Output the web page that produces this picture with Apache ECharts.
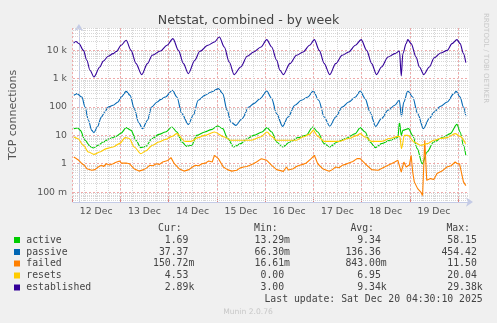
<!DOCTYPE html>
<html><head><meta charset="utf-8">
<script src="https://cdn.jsdelivr.net/npm/echarts@6/dist/echarts.min.js"></script>
<style>html,body{margin:0;padding:0;background:#f0f0f0;}#c{width:497px;height:323px;}</style>
</head><body><div id="c"></div><script>
// hours since 12 Dec 00:00
const days = ['12 Dec','13 Dec','14 Dec','15 Dec','16 Dec','17 Dec','18 Dec','19 Dec'];
const yTickLabels = {'-1':'100 m','0':'1','1':'10','2':'100','3':'1 k','4':'10 k'};
const minorMultipliers = [2,3,4,5,6,7,8,9];
const decades = [0.01,0.1,1,10,100,1000,10000];

const active = [[-2.6,17.2],[-0.6,18.1],[0.7,15],[3.1,6.7],[5.6,4.1],[7.3,3.6],[9.8,4.45],[12.3,5.8],[15.6,7.7],[18.9,9.2],[21.4,12],[23.9,18.7],[26.4,15],[28.9,6.7],[31.3,3.7],[33.8,4.1],[37.1,7.7],[40.5,10.8],[43.8,13.1],[47.1,19.6],[49.6,13.1],[52.1,5.8],[54.6,4.1],[57.1,4.45],[59.6,10],[63.7,13.1],[67.0,15.9],[70.2,21.2],[72.8,17.2],[75.3,7.7],[78.4,3.9],[81.9,5.1],[85.2,7.7],[88.5,10],[92.7,13.1],[95.2,18.7],[97.6,13.1],[100.1,5.8],[103.1,3.9],[106.8,5.8],[110.9,8.3],[115.0,10],[118.4,19.6],[120.9,13.1],[124.2,5.1],[127.0,3.9],[130.8,5.8],[134.9,7.7],[140.0,11.5],[142.4,18.7],[144.9,13.1],[147.4,5.8],[150.2,3.7],[153.2,5.1],[157.4,6.7],[161.5,8.3],[162.3,29.4],[163.2,10],[164.0,15],[166.9,17.2],[168.9,10],[171.3,3.4],[173.8,1.0],[176.3,2.6],[179.6,5.8],[184.6,8.7],[188.0,11.5],[191.4,24.4],[193.0,13.1],[194.7,4.45],[195.9,1.98]];

const passive = [[-2.6,256],[-1,294],[1.5,223],[3.1,99],[4.8,34],[6.5,15],[7.6,12.4],[9.3,19.6],[11.4,44],[13.1,66],[14.8,99],[17.3,114],[19.8,149],[21.4,223],[23.9,354],[25.9,256],[28.0,87],[30.2,29],[32.2,17.2],[34.7,34],[36.8,99],[39.6,149],[41.3,181],[43.8,223],[47.4,384],[49.6,223],[52.1,58],[55.4,24],[57.9,51],[60.4,171],[63.7,256],[67.0,335],[70.6,441],[72.8,294],[75.0,76],[77.0,29],[79.4,22.5],[82.7,39],[86.0,99],[88.5,131],[91.8,196],[95.1,363],[97.6,196],[100.1,58],[103.1,20.7],[105.9,44],[109.3,114],[112.6,171],[115.9,223],[118.7,363],[121.4,171],[124.2,44],[127.0,21],[130.0,44],[133.3,99],[136.6,149],[140.0,223],[142.4,363],[144.9,196],[147.4,66],[150.2,20.7],[153.2,39],[156.5,76],[159.9,114],[162.2,171],[163.3,47],[164.5,149],[166.5,363],[169.0,223],[171.5,58],[174.4,17.2],[177.4,39],[179.9,66],[183.1,105],[186.5,149],[189.8,294],[191.0,354],[193.0,223],[194.7,99],[195.9,47]];

const failed = [[-2.6,1.72],[-1.2,1.5],[-0.1,1.32],[1.5,1.0],[2.6,0.9],[4.0,0.67],[6.5,0.59],[8.1,0.62],[8.8,0.7],[9.8,0.77],[11.4,0.88],[12.5,0.8],[13.9,1.0],[15.5,0.9],[17.3,1.0],[18.5,1.1],[19.4,0.95],[20.6,1.24],[21.5,1.05],[22.4,1.15],[23.9,1.06],[25.5,1.0],[26.5,1.1],[27.9,0.67],[30.4,0.55],[32.8,0.62],[34.2,0.7],[35.8,0.88],[37.5,0.85],[39.1,1.0],[40.8,0.95],[42.4,1.15],[45.0,1.3],[46.6,1.64],[48.3,1.0],[50.7,0.67],[53.2,0.55],[55.7,0.62],[57.3,0.75],[59.0,0.88],[60.6,0.85],[62.3,1.0],[64.0,1.05],[65.7,1.24],[67.5,1.15],[68.6,1.98],[70.6,1.51],[73.1,0.77],[75.2,0.62],[77.4,0.55],[79.9,0.59],[81.5,0.7],[83.3,0.77],[85.0,0.8],[86.6,0.88],[88.3,1.0],[89.9,1.15],[92.4,1.51],[95.1,1.32],[97.6,0.88],[100.1,0.62],[103.5,0.54],[105.1,0.77],[106.0,0.6],[108.5,0.67],[110.1,0.8],[111.8,0.88],[113.4,0.95],[115.1,1.06],[117.6,1.51],[119.2,1.98],[120.9,1.0],[123.4,0.67],[126.7,0.54],[128.3,0.62],[130.0,0.77],[131.7,0.72],[133.3,0.88],[135.0,0.95],[136.6,1.06],[138.7,1.2],[140.8,1.51],[142.4,1.51],[144.9,1.0],[148.2,0.62],[151.5,0.59],[154.0,0.72],[156.5,0.88],[158.2,1.0],[159.9,1.15],[161.5,1.32],[163.2,0.51],[164.5,1.15],[165.7,0.77],[167.3,0.9],[168.2,1.98],[169.0,0.51],[169.8,0.23],[171.5,0.133],[173.1,0.10],[174.0,0.077],[175.1,6.7],[176.1,0.26],[178.0,0.30],[179.7,0.28],[181.3,0.45],[183.8,0.55],[186.3,0.77],[188.4,0.85],[190.5,1.15],[191.6,1.0],[192.7,1.0],[194.7,0.23],[195.9,0.17]];

const resets = [[-2.6,8.7],[-0.6,7.7],[2.3,4.45],[4.8,2.6],[7.6,2.14],[10.6,2.6],[13.9,3.4],[17.3,3.9],[20.5,5.1],[23.5,8.3],[25.5,7.7],[28,3.9],[31.3,2.27],[33.8,2.8],[37.2,4.45],[40.4,5.8],[43.8,7.1],[47.1,9.2],[49.6,11.5],[53.7,6.15],[56.7,6.15],[60.3,8.3],[63.7,10],[68.6,13.1],[73.6,8.7],[77,6.7],[86.9,6.7],[91.9,8.7],[95.2,13.1],[97.6,9.2],[100.1,6.7],[110.1,6.7],[113.4,8.7],[116.7,10.8],[118.7,15],[120.9,9.2],[124.2,6.15],[131.7,6.15],[136.6,7.7],[140.8,10],[142.4,11.5],[144.9,8.7],[148.2,6.15],[153.2,6.15],[157.3,7.7],[161.5,9.2],[162.5,9],[163.3,3.4],[164.8,10],[166.5,10],[169.8,5.8],[173.1,4.45],[176.4,5.1],[179.7,6.7],[183.0,7.7],[186.4,8.3],[190.5,11.5],[193.0,9.2],[195.8,5.1]];

const established = [[-2.7,17500],[-1.5,20000],[0,17000],[2.3,9800],[4,4400],[5.6,1950],[7.6,1130],[10.6,2540],[12.3,4100],[14.8,6050],[17.3,7500],[18.9,8900],[21.4,14800],[23.9,22100],[26.4,9800],[28.9,3350],[31.8,1370],[34.7,3350],[37.1,6600],[41.3,9300],[44.6,14800],[47.6,25400],[50.4,9800],[52.9,3350],[55.4,1490],[58.7,4400],[61.2,9100],[65.3,14800],[68.6,19300],[71.1,28900],[73.6,12900],[76.1,3800],[78.6,1370],[81.9,2540],[85.2,6050],[88.5,8600],[92.2,12900],[95.1,23400],[97.6,12900],[100.1,4400],[101.8,1950],[103.5,1370],[106.8,3350],[110.2,6600],[113.5,8600],[116.8,14800],[119.2,23400],[121.7,9800],[124.2,3350],[127.0,1370],[130.0,3350],[133.3,6600],[136.6,8600],[140.0,14800],[142.9,23400],[145.7,9800],[148.2,3350],[150.7,1370],[153.2,2540],[156.5,5700],[159.9,7500],[162.3,9300],[163.2,1220],[164.0,7500],[165.7,16900],[166.5,23400],[168.2,16900],[170.7,5700],[172.4,2540],[174.6,1370],[177.4,2540],[179.9,5400],[183.1,7900],[186.5,9800],[188.9,16900],[191.4,23400],[193.0,16900],[194.7,7500],[195.9,3600]];

const names = ['active','passive','failed','resets','established'];
const colors = ['#00cc00','#0066b3','#ff8000','#ffcc00','#330099'];
const seriesData = [active, passive, failed, resets, established];
const smoothFlags = [0.3, 0.3, 0, 0.3, 0.3];
const curStat = ['1.69 ','37.37 ','150.72m','4.53 ','2.89k'];
const minStat = ['13.29m','66.30m','16.61m','0.00 ','3.00 '];
const avgStat = ['9.34 ','136.36 ','843.00m','6.95 ','9.34k'];
const maxStat = ['58.15 ','454.42 ','11.50 ','20.04 ','29.38k'];
const headers = ['Cur:','Min:','Avg:','Max:'];
const lastUpdate = 'Last update: Sat Dec 20 04:30:10 2025';

const axisColor = '#c4cbe6';
const majorColor = '#efaaaa';
const minorColor = '#d6d6d6';
const textColor = '#555';
const sans = 'DejaVu Sans';
const mono = 'DejaVu Sans Mono';

const minorVals = [];
decades.forEach(d => minorMultipliers.forEach(m => minorVals.push({yAxis: +(d*m).toPrecision(3)})));

const chart = echarts.init(document.getElementById('c'), null, {renderer:'canvas'});

const series = [{
  type:'line', xAxisIndex:0, yAxisIndex:0, data:[], z:1, silent:true,
  markLine:{silent:true, symbol:'none', label:{show:false}, animation:false,
    lineStyle:{color:minorColor, type:[1,1], width:1}, data:minorVals}
}];
names.forEach((n,i)=>series.push({
  name:n, type:'line', xAxisIndex:0, yAxisIndex:0, data:seriesData[i],
  showSymbol:false, smooth:smoothFlags[i], smoothMonotone:'x',
  lineStyle:{color:colors[i], width:1.1}, itemStyle:{color:colors[i]}, z:3+i, animation:false
}));

const rowsY = [240, 252, 263.5, 275.5, 287.5];
const colRight = [194.3, 290, 386.7, 482.7];
const headRight = [181.7, 277.7, 374, 470];
const graphic = [];
const legendFont = '9.8px ' + mono;
headers.forEach((h,i)=>graphic.push({type:'text', style:{text:h, x:headRight[i], y:228, font:legendFont, fill:'#444', align:'right', textAlign:'right', verticalAlign:'middle', textVerticalAlign:'middle'}}));
names.forEach((n,i)=>{
  graphic.push({type:'rect', shape:{x:14, y:rowsY[i]-3, width:6, height:6}, style:{fill:colors[i]}});
  graphic.push({type:'text', style:{text:n, x:26.3, y:rowsY[i], font:legendFont, fill:'#444', verticalAlign:'middle', textVerticalAlign:'middle'}});
  [curStat, minStat, avgStat, maxStat].forEach((arr,j)=>graphic.push({type:'text', style:{text:arr[i], x:colRight[j], y:rowsY[i], font:legendFont, fill:'#444', align:'right', textAlign:'right', verticalAlign:'middle', textVerticalAlign:'middle'}}));
});
graphic.push({type:'text', style:{text:lastUpdate, x:482.7, y:299.3, font:legendFont, fill:'#444', align:'right', textAlign:'right', verticalAlign:'middle', textVerticalAlign:'middle'}});
graphic.push({type:'text', style:{text:'Munin 2.0.76', x:248, y:312, font:'7.6px ' + sans, fill:'#c8c8c8', align:'center', textAlign:'center', verticalAlign:'middle', textVerticalAlign:'middle'}});
graphic.push({type:'text', rotation:-Math.PI/2, x:486, y:13, style:{text:'RRDTOOL / TOBI OETIKER', x:0, y:0, font:'7px ' + sans, fill:'#c8c8c8', align:'left', textAlign:'left', verticalAlign:'middle', textVerticalAlign:'middle'}});

chart.setOption({
  backgroundColor:'#f0f0f0',
  animation:false,
  title:{text:'Netstat, combined - by week', left:'center', top:9, textStyle:{fontFamily:sans, fontSize:12.6, fontWeight:'normal', color:'#444'}},
  grid:[
    {left:66, right:28, top:28, bottom:121, show:true, backgroundColor:'#ffffff', borderWidth:0, containLabel:false},
    {left:72, right:39, top:28, bottom:121, show:false, containLabel:false}
  ],
  xAxis:[
    {type:'value', gridIndex:0, min:-3, max:197.5, position:'bottom',
     axisLine:{show:true, lineStyle:{color:axisColor, width:1}, symbol:['none','arrow'], symbolSize:[7,7], symbolOffset:[0,4]},
     axisTick:{show:false}, axisLabel:{show:false}, splitLine:{show:false}},
    {type:'value', gridIndex:1, min:0, max:192, interval:6, position:'top',
     axisLine:{show:false}, axisTick:{show:false}, axisLabel:{show:false},
     splitLine:{show:true, showMinLine:false, lineStyle:{color:minorColor, type:[1,1], width:1}}},
    {type:'category', gridIndex:1, data:days, boundaryGap:true, position:'bottom',
     axisLine:{show:false},
     axisTick:{show:true, interval:0, length:3, inside:true, lineStyle:{color:'#e08080'}},
     axisLabel:{show:true, interval:0, color:textColor, fontFamily:sans, fontSize:9.3, margin:5},
     splitLine:{show:true, interval:0, lineStyle:{color:majorColor, type:[2,2], width:1}}}
  ],
  yAxis:[
    {type:'log', logBase:10, gridIndex:0, min:0.045, max:60000,
     axisLine:{show:true, lineStyle:{color:axisColor, width:1}, symbol:['none','arrow'], symbolSize:[7,7], symbolOffset:[0,4]},
     axisTick:{show:false},
     axisLabel:{show:true, showMinLabel:false, showMaxLabel:false, color:textColor, fontFamily:sans, fontSize:9.3, margin:6,
       formatter:v=>{const k=Math.round(Math.log10(v)); return Math.abs(Math.log10(v)-k)<1e-6 ? (yTickLabels[String(k)]||'') : '';}},
     splitLine:{show:true, showMinLine:false, showMaxLine:false, lineStyle:{color:majorColor, type:[2,2], width:1}},
     name:'TCP connections', nameLocation:'middle', nameGap:54, nameRotate:90,
     nameTextStyle:{fontFamily:sans, fontSize:11, color:textColor}},
    {type:'value', gridIndex:1, min:0, max:1, show:false}
  ],
  graphic:graphic,
  series:series
});
</script></body></html>
